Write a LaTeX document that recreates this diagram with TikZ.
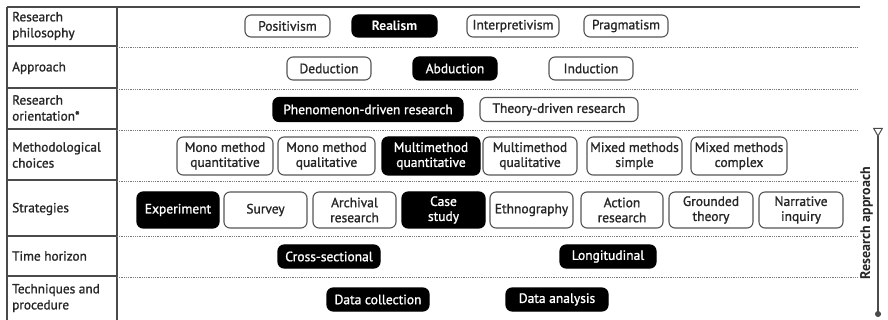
\documentclass[tikz,border=0pt]{standalone}
\usepackage{fontspec}
\setmainfont{PT Sans}[FakeBold=1.2]
\newfontfamily\ptbold{PT Sans Bold}
\usetikzlibrary{arrows.meta}
\definecolor{frame}{HTML}{4A4A4A}
\definecolor{boxline}{HTML}{555555}
\definecolor{dotline}{HTML}{7A7A7A}
\tikzset{
  opt/.style={draw=boxline, line width=1.1pt, rounded corners=6pt, align=center,
    inner xsep=1pt, inner ysep=1pt, text=black!85, font=\fontsize{13.5}{15}\selectfont},
  dark/.style={opt, fill=black, draw=black, text=white},
  rowlabel/.style={anchor=west, align=left, inner sep=0pt, text=black!85,
    font=\fontsize{13.3}{16}\selectfont},
  framel/.style={draw=frame, line width=1.2pt},
  sepl/.style={draw=dotline, line width=1pt, dash pattern=on 0.8pt off 1pt},
}
\begin{document}
\begin{tikzpicture}[x=1pt,y=-1pt]
\useasboundingbox (0,0) rectangle (888,320);
% frame
\draw[framel] (7,7) -- (860,7);
\draw[framel] (7,7) -- (7,320);
\draw[framel] (117,7) -- (117,320);
\foreach \y/\d in {46/48,88/90,129/131,180/182,236/237,276/277}{
  \draw[framel] (7,\y) -- (117,\y);
  \draw[sepl] (117,\d) -- (857,\d);
}
% row labels
\node[rowlabel] (l1) at (12,26) {Research\\philosophy};
\node[rowlabel] (l2) at (12,68) {Approach};
\node[rowlabel] (l3) at (12,108) {Research\\orientation*};
\node[rowlabel] (l4) at (12,155) {Methodological\\choices};
\node[rowlabel] (l5) at (12,209) {Strategies};
\node[rowlabel] (l6) at (12,256) {Time horizon};
\node[rowlabel] (l7) at (12,298) {Techniques and\\procedure};
% row 1
\node[opt, minimum width=85pt, minimum height=22pt] (pos) at (287.5,26) {Positivism};
\node[dark, minimum width=85pt, minimum height=22pt] (rea) at (394.5,26) {\ptbold Realism};
\node[opt, minimum width=92pt, minimum height=22pt] (int) at (513,26) {Interpretivism};
\node[opt, minimum width=84pt, minimum height=22pt] (pra) at (626,26) {Pragmatism};
% row 2
\node[opt, minimum width=84pt, minimum height=23pt] (ded) at (329,68.5) {Deduction};
\node[dark, minimum width=84pt, minimum height=23pt] (abd) at (455,68.5) {Abduction};
\node[opt, minimum width=84pt, minimum height=23pt] (ind) at (591,68.5) {Induction};
% row 3
\node[dark, minimum width=190pt, minimum height=24pt] (phe) at (368,109.5) {Phenomenon-driven research};
\node[opt, minimum width=158pt, minimum height=24pt] (the) at (559,109.5) {Theory-driven research};
% row 4
\tikzset{mrow/.style={minimum height=38pt, minimum width=#1pt}}
\node[opt, mrow=96] (m1) at (225,156) {Mono method\\quantitative};
\node[opt, mrow=97] (m2) at (326.5,156) {Mono method\\qualitative};
\node[dark, mrow=98] (m3) at (431,156) {Multimethod\\quantitative};
\node[opt, mrow=94] (m4) at (530,156) {Multimethod\\qualitative};
\node[opt, mrow=95] (m5) at (634.5,156) {Mixed methods\\simple};
\node[opt, mrow=96] (m6) at (739,156) {Mixed methods\\complex};
% row 5
\tikzset{srow/.style={minimum height=36pt, minimum width=#1pt}}
\node[dark, srow=82] (s1) at (178,210) {Experiment};
\node[opt, srow=83] (s2) at (265.5,210) {Survey};
\node[opt, srow=83] (s3) at (354.5,210) {Archival\\research};
\node[dark, srow=83] (s4) at (443.5,210) {Case\\study};
\node[opt, srow=83] (s5) at (531.5,210) {Ethnography};
\node[opt, srow=82] (s6) at (622,210) {Action\\research};
\node[opt, srow=84] (s7) at (711,210) {Grounded\\theory};
\node[opt, srow=84] (s8) at (801,210) {Narrative\\inquiry};
% row 6
\node[dark, minimum width=102pt, minimum height=23pt] (cro) at (329,256.5) {Cross-sectional};
\node[dark, minimum width=96pt, minimum height=23pt] (lon) at (608,256.5) {Longitudinal};
% row 7
\node[dark, minimum width=102pt, minimum height=23pt] (dco) at (378,299.5) {Data collection};
\node[dark, minimum width=102pt, minimum height=23pt] (dan) at (557,299.5) {Data analysis};
% research approach axis
\coordinate (atop) at (878,128);
\coordinate (abot) at (878,317);
\draw[draw=frame, line width=1.2pt,
  {Triangle[open, reversed, length=9pt, width=10pt, line width=1pt]}-{Circle[length=6pt]}]
  (atop) -- (abot);
\node[rotate=90, inner sep=0pt, font=\fontsize{14}{15}\selectfont\ptbold, text=black!85] (ra) at (866.5,223) {Research approach};
\end{tikzpicture}
\end{document}
